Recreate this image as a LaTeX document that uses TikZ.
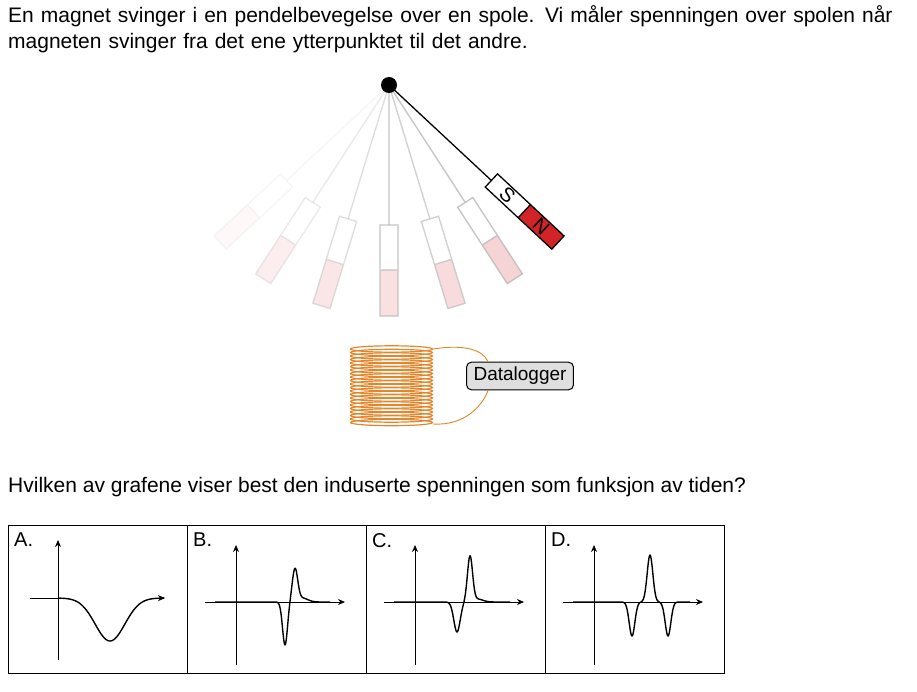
\documentclass[tikz,border=0pt]{standalone}
\usepackage{fontspec}
\setmainfont{Liberation Sans}
\usetikzlibrary{positioning,calc}
\definecolor{coil}{RGB}{226,134,44}
\definecolor{nred}{RGB}{210,35,40}
\tikzset{
  rod/.style={draw=gray!55, line width=1.4pt},
  mag/.style={draw=gray!55, line width=1.4pt},
  box/.style={draw=black, line width=0.8pt},
  axis/.style={-{Stealth[length=7pt,width=6pt]}, line width=0.8pt},
  curve/.style={line width=1.4pt, line join=round},
}
\usetikzlibrary{arrows.meta}
\begin{document}
\begin{tikzpicture}[x=1pt,y=-1pt,font=\fontsize{21}{26}\selectfont]
  \useasboundingbox (0,0) rectangle (917,692);
  % text
  \node[anchor=north west, inner sep=0pt, align=left, text width=910pt] (txt) at (8,5)
    {En magnet svinger i en pendelbevegelse over en spole. Vi måler spenningen over spolen når\\
     magneten svinger fra det ene ytterpunktet til det andre.};
  \node[anchor=north west, inner sep=0pt] (q) at (8,477)
    {Hvilken av grafene viser best den induserte spenningen som funksjon av tiden?};

  % faded pendulum positions
  \coordinate (pv) at (389,85);
  \foreach \a/\o in {-47/0.12,-33/0.3,-17/0.45,0/0.55,17/0.65,33/0.8}{
    \begin{scope}[shift={(pv)}, rotate=\a, opacity=\o]
      \draw[rod] (0,0) -- (0,140);
      \fill[nred!25] (-9,185) rectangle (9,231);
      \draw[mag] (-9,140) rectangle (9,231) (-9,185) -- (9,185);
    \end{scope}
  }
  % current magnet
  \begin{scope}[shift={(pv)}, rotate=47]
    \draw[line width=1.3pt] (0,0) -- (0,140);
    \fill[nred] (-9,185) rectangle (9,231);
    \draw[line width=1.3pt] (-9,140) rectangle (9,231) (-9,185) -- (9,185);
    \node[rotate=-43, font=\fontsize{20}{20}\selectfont] (s) at (0,162) {S};
    \node[rotate=-43, font=\fontsize{20}{20}\selectfont] (n) at (0,208) {N};
  \end{scope}
  \fill (pv) circle (8);

  % coil
  \node[draw=black, fill=gray!25, rounded corners=5pt, line width=1pt, inner xsep=7pt, inner ysep=5pt,
        font=\fontsize{19}{22}\selectfont] (dl) at (520,376) {Datalogger};
  \coordinate (ct) at (433,349);
  \coordinate (cb) at (433,424);
  \draw[coil, line width=0.9pt] (ct) .. controls (465,344) and (483,350) .. ([xshift=22pt]dl.north west);
  \draw[coil, line width=0.9pt] (cb) .. controls (465,426) and (483,405) .. ([xshift=22pt]dl.south west);
  \foreach \y in {349,352.5,...,424}
    \draw[coil, line width=1.2pt] (391.5,\y) ellipse (41 and 3.2);

  % graph boxes
  \foreach \l/\x in {A/8,B/187,C/366,D/545}{
    \draw[box] (\x,525) rectangle ++(179,148);
    \node[anchor=north west, inner sep=0pt, font=\fontsize{20}{20}\selectfont] (lab\l) at (\x+6,533) {\l.};
  }
  % A
  \draw[axis] (58,660) -- (58,540);
  \draw[line width=0.8pt] (30,598) -- (58,598);
  \draw[curve, -{Stealth[length=7pt,width=6pt]}, domain=58:165, samples=80] plot (\x, {598+43*exp(-((\x-110)/21)^2)});
  % B
  \draw[axis] (236,665) -- (236,545);
  \draw[axis] (205,602) -- (345,602);
  \draw[curve, domain=215:330, samples=200] plot (\x, {602+43*exp(-((\x-285)/3.5)^2)-32*exp(-((\x-295)/3.8)^2)-4*exp(-((\x-302)/8)^2)});
  % C
  \draw[axis] (415,665) -- (415,545);
  \draw[axis] (384,602) -- (524,602);
  \draw[curve, domain=394:510, samples=200] plot (\x, {602+30*exp(-((\x-457)/4.5)^2)-45*exp(-((\x-470)/3.6)^2)-3*exp(-((\x-477)/8)^2)});
  % D
  \draw[axis] (594,665) -- (594,545);
  \draw[axis] (563,602) -- (703,602);
  \draw[curve, domain=573:690, samples=220] plot (\x, {602+34*exp(-((\x-632)/4)^2)-47*exp(-((\x-650)/4)^2)+34*exp(-((\x-668)/4)^2)});
\end{tikzpicture}
\end{document}
